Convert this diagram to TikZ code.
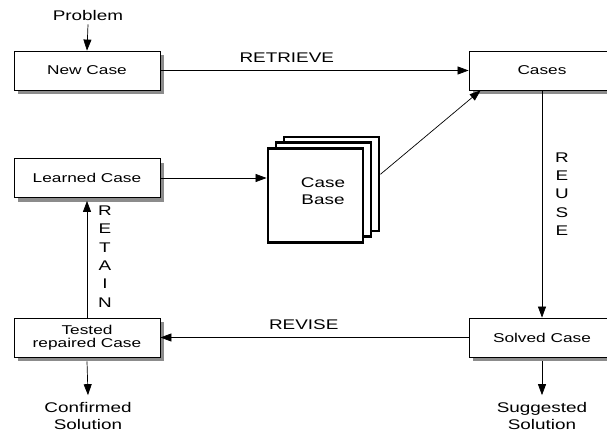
\documentclass[tikz,border=0pt]{standalone}
\usepackage{fontspec}
\setmainfont{Liberation Sans}[FakeStretch=1.35]
\usetikzlibrary{arrows.meta,shadows,calc}
\begin{document}
\begin{tikzpicture}[x=1pt,y=-1pt,
  every node/.style={font=\fontsize{14}{17}\selectfont},
  box/.style={draw, line width=0.8pt, fill=white, minimum width=146pt, minimum height=39pt, inner sep=0pt, align=center,
    font=\fontsize{12.8}{15}\selectfont,
    drop shadow={shadow xshift=4pt, shadow yshift=-4pt, fill=black!45, opacity=1}},
  page/.style={draw, line width=2.8pt, fill=white, minimum width=95pt, minimum height=94pt, inner sep=0pt},
  arr/.style={line width=0.7pt, -{Triangle[length=11pt,width=8pt]}},
  lbl/.style={inner sep=0pt, align=center},
  vtext/.style={inner sep=0pt, align=center, font=\fontsize{14}{18.3}\selectfont}]
\useasboundingbox (0,0) rectangle (607,431);
\node[lbl] (prob) at (88,15) {Problem};
\node[box] (nc) at (87,70.5) {New Case};
\node[box] (lc) at (87,178) {Learned Case};
\node[box] (tr) at (87,337.5) {Tested\\[-2pt]repaired Case};
\node[box] (cs) at (542,70.5) {Cases};
\node[box] (sc) at (542,337.5) {Solved Case};
\node[page] (cb3) at (331.5,184) {};
\node[page] (cb2) at (323.5,189.5) {};
\node[page] (cb1) at (315.5,195.5) {};
\node[lbl] (cbt) at (323,191) {Case\\Base};
\node[lbl] (conf) at (88,416) {Confirmed\\Solution};
\node[lbl] (sugg) at (542,416) {Suggested\\Solution};
\node[vtext] (reuse) at (562,194) {R\\E\\U\\S\\E};
\node[vtext] (retain) at (105,256.5) {R\\E\\T\\A\\I\\N};
\draw[arr] ([yshift=-4pt]prob.south) -- (nc.north);
\draw[arr] (nc.east) -- node[lbl, pos=0.41, above=8pt] (retr) {RETRIEVE} (cs.west);
\draw[arr] (lc.east) -- (lc.east -| cb1.west);
\draw[arr] ($(cb3.north east)!0.4!(cb3.south east)$) -- ([xshift=12pt]cs.south west);
\draw[arr] (cs.south) -- (sc.north);
\draw[arr] (sc.west) -- node[lbl, pos=0.535, above=8pt] (rev) {REVISE} (tr.east);
\draw[arr] ([yshift=-4pt]sc.south) -- ([yshift=7pt]sugg.north);
\draw[arr] ([yshift=-4pt]tr.south) -- ([yshift=7pt]conf.north);
\draw[arr] (tr.north) -- ([yshift=-3pt]lc.south);
\end{tikzpicture}
\end{document}
